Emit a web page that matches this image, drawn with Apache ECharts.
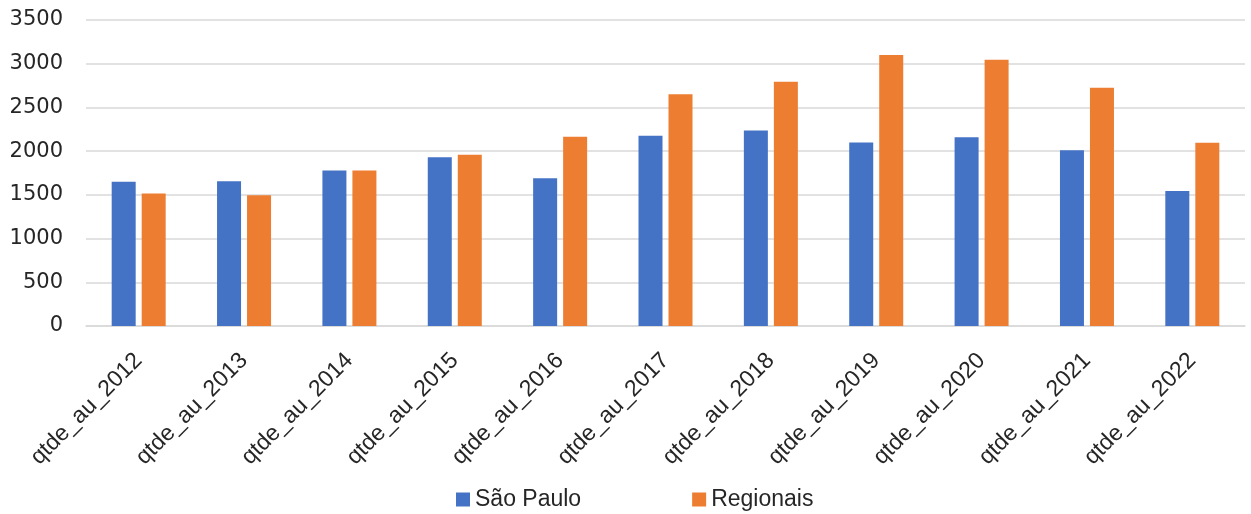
<!DOCTYPE html>
<html>
<head>
<meta charset="utf-8">
<script src="https://cdn.jsdelivr.net/npm/echarts@6/dist/echarts.min.js"></script>
<style>
  html, body { margin: 0; padding: 0; background: #fff; }
  #chart { width: 1251px; height: 514px; }
</style>
</head>
<body>
<div id="chart"></div>
<script>
// categorias (anos)
const categories = [
  "qtde_au_2012", "qtde_au_2013", "qtde_au_2014", "qtde_au_2015",
  "qtde_au_2016", "qtde_au_2017", "qtde_au_2018", "qtde_au_2019",
  "qtde_au_2020", "qtde_au_2021", "qtde_au_2022"
];
const saoPaulo = [1650, 1655, 1780, 1930, 1690, 2175, 2235, 2100, 2160, 2010, 1545];
const regionais = [1515, 1495, 1780, 1960, 2165, 2650, 2795, 3100, 3045, 2725, 2095];
const seriesNames = ["São Paulo", "Regionais"];

const chart = echarts.init(document.getElementById("chart"));

const option = {
  animation: false,
  color: ["#4472C4", "#ED7D31"],
  grid: {
    left: 86,
    right: 6,
    top: 20,
    bottom: 188,
  },
  legend: {
    data: seriesNames,
    left: 451,
    top: 483,
    icon: "rect",
    itemWidth: 14,
    itemHeight: 14,
    itemGap: 111,
    textStyle: {
      fontFamily: "Liberation Sans",
      fontSize: 23,
      color: "#262626",
    },
  },
  xAxis: {
    type: "category",
    data: categories,
    axisLine: { lineStyle: { color: "#d9d9d9", width: 1.5 } },
    axisTick: { show: false },
    axisLabel: {
      rotate: 45,
      interval: 0,
      margin: 31,
      fontFamily: "Liberation Sans",
      fontSize: 23,
      color: "#262626",
    },
  },
  yAxis: {
    type: "value",
    min: 0,
    max: 3500,
    interval: 500,
    axisLine: { show: false },
    axisTick: { show: false },
    splitLine: { lineStyle: { color: "#d9d9d9", width: 1.5 } },
    axisLabel: {
      margin: 23,
      fontFamily: "DejaVu Sans",
      fontSize: 21,
      color: "#262626",
      formatter: (v) => String(v),
    },
  },
  series: [
    {
      name: seriesNames[0],
      type: "bar",
      barWidth: 24,
      barGap: "25%",
      data: saoPaulo,
    },
    {
      name: seriesNames[1],
      type: "bar",
      barWidth: 24,
      barGap: "25%",
      data: regionais,
    },
  ],
};

chart.setOption(option);
</script>
</body>
</html>
